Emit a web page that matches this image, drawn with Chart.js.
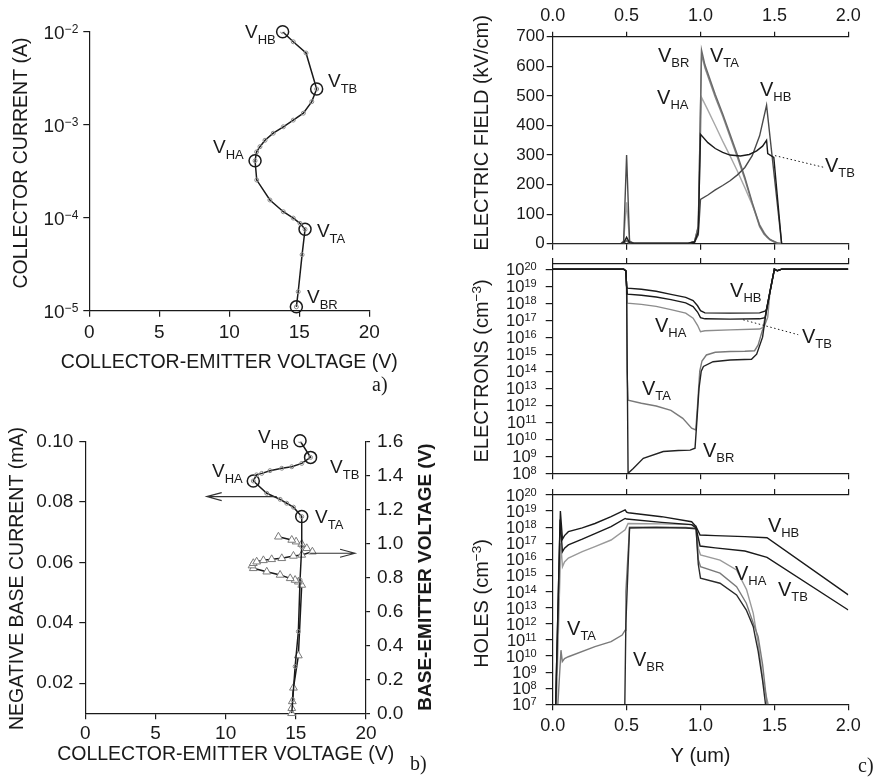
<!DOCTYPE html>
<html>
<head>
<meta charset="utf-8">
<title>Snapback characteristics and internal profiles</title>
<script src="https://cdn.jsdelivr.net/npm/chart.js@4.4.1/dist/chart.umd.min.js"></script>
<style>
  html, body { margin: 0; padding: 0; background: #fff; width: 884px; height: 780px; overflow: hidden; }
  .panel { position: absolute; }
  canvas { display: block; }
</style>
</head>
<body>
<div class="panel" style="left:0;top:0"><canvas id="chartIV" width="410" height="400"></canvas></div>
<div class="panel" style="left:0;top:395px"><canvas id="chartBase" width="440" height="385"></canvas></div>
<div class="panel" style="left:440px;top:0"><canvas id="chartField" width="444" height="256"></canvas></div>
<div class="panel" style="left:440px;top:250px"><canvas id="chartElectrons" width="444" height="234"></canvas></div>
<div class="panel" style="left:440px;top:478px"><canvas id="chartHoles" width="444" height="302"></canvas></div>
<script>
// ---------- a) collector current vs collector-emitter voltage ----------
const vceA = [13.81, 14.57, 15.48, 16.24, 15.89, 15.29, 14.57, 13.86, 13.14, 12.55, 12.19, 11.95, 11.84, 11.96, 12.90, 13.86, 14.57, 15.05, 15.41, 15.20, 14.92, 14.79];
const icA  = [1.0e-2, 7.8e-3, 5.9e-3, 2.42e-3, 1.77e-3, 1.33e-3, 1.12e-3, 9.5e-4, 8.1e-4, 6.8e-4, 5.8e-4, 5.1e-4, 4.1e-4, 2.54e-4, 1.55e-4, 1.16e-4, 9.9e-5, 8.7e-5, 7.5e-5, 4.0e-5, 1.6e-5, 1.1e-5];
const statesA   = ['HB', 'TB', 'HA', 'TA', 'BR'];
const stateVceA = [13.81, 16.24, 11.84, 15.41, 14.79];
const stateIcA  = [1.0e-2, 2.42e-3, 4.1e-4, 7.5e-5, 1.1e-5];

// ---------- b) base current and base-emitter voltage ----------
const vceB = [15.30, 16.05, 15.42, 14.71, 14.00, 13.16, 12.57, 12.20, 11.97, 12.93, 13.88, 14.35, 14.83, 15.42, 15.42, 15.30, 15.18, 14.95, 14.78, 14.71];
const ibB  = [0.1003, 0.0948, 0.0928, 0.0917, 0.0912, 0.0904, 0.0895, 0.0890, 0.0870, 0.0829, 0.0809, 0.0796, 0.0783, 0.0752, 0.0652, 0.0542, 0.0371, 0.0255, 0.0145, 0.0100];
const statesB   = ['HB', 'TB', 'HA', 'TA'];
const stateVceB = [15.30, 16.05, 11.97, 15.42];
const stateIbB  = [0.1003, 0.0948, 0.0870, 0.0752];
const vceT = [14.70, 14.71, 14.75, 14.83, 15.18, 15.42, 15.18, 14.95, 14.60, 13.88, 12.93, 11.97, 11.88, 11.97, 12.21, 12.69, 13.28, 14.00, 14.83, 15.42, 16.18, 15.78, 15.42, 15.02, 14.71, 13.76];
const vbeT = [0.00, 0.03, 0.07, 0.15, 0.34, 0.756, 0.775, 0.785, 0.795, 0.815, 0.834, 0.854, 0.870, 0.884, 0.893, 0.901, 0.907, 0.913, 0.927, 0.933, 0.952, 0.972, 0.997, 1.011, 1.021, 1.040];

// ---------- c) profiles along Y (um) at each bias state ----------
const fieldHB = [[0,0],[0.46,0],[0.48,8],[0.5,300],[0.52,8],[0.55,1],[0.92,2],[0.96,6],[0.985,30],[1.0,150],[1.05,165],[1.1,182],[1.15,197],[1.2,213],[1.25,233],[1.3,258],[1.35,298],[1.4,365],[1.447,468],[1.5,225],[1.549,0],[2.0,0]];
const fieldTB = [[0,0],[0.46,0],[0.48,3],[0.5,22],[0.52,3],[0.55,1],[0.92,2],[0.96,6],[0.985,40],[1.0,370],[1.05,342],[1.1,322],[1.15,309],[1.2,300],[1.27,297],[1.33,302],[1.38,314],[1.42,330],[1.447,350],[1.455,305],[1.496,292],[1.549,0],[2.0,0]];
const fieldBR = [[0,0],[0.46,0],[0.48,2],[0.5,12],[0.52,2],[0.92,2],[0.96,8],[0.985,60],[1.007,655],[1.03,605],[1.1,505],[1.15,440],[1.2,370],[1.25,300],[1.3,225],[1.35,140],[1.4,62],[1.43,36],[1.47,15],[1.52,3],[1.55,0],[2.0,0]];
const fieldTA = [[0,0],[0.46,0],[0.48,2],[0.5,10],[0.52,2],[0.92,2],[0.96,8],[0.985,55],[1.007,640],[1.03,595],[1.1,495],[1.15,432],[1.2,362],[1.25,292],[1.3,218],[1.35,135],[1.4,58],[1.43,32],[1.47,13],[1.52,2],[1.55,0],[2.0,0]];
const fieldHA = [[0,0],[0.46,0],[0.48,10],[0.5,140],[0.52,10],[0.55,1],[0.92,2],[0.96,8],[0.985,60],[1.007,495],[1.05,452],[1.1,400],[1.15,347],[1.2,297],[1.25,245],[1.3,190],[1.35,132],[1.4,65],[1.45,22],[1.5,5],[1.55,0],[2.0,0]];

const elecHB = [[0,1e20],[0.48,1e20],[0.495,8e19],[0.5,1e19],[0.505,7.6e18],[0.6,6.5e18],[0.7,5e18],[0.8,3.3e18],[0.9,2.2e18],[0.95,1.4e18],[0.98,7e17],[1.0,3.6e17],[1.03,2.7e17],[1.2,2.6e17],[1.4,2.7e17],[1.44,3.5e17],[1.447,4.5e17],[1.47,4.6e18],[1.5,1e20],[1.52,8e19],[1.55,1e20],[2.0,1e20]];
const elecTB = [[0,1e20],[0.48,1e20],[0.495,8e19],[0.5,1e19],[0.505,3.4e18],[0.6,2.9e18],[0.7,2.3e18],[0.8,1.6e18],[0.9,1.05e18],[0.95,6.3e17],[0.98,3e17],[1.0,1.4e17],[1.03,1.2e17],[1.2,1.15e17],[1.4,1.2e17],[1.437,1.4e17],[1.45,5e17],[1.47,4.6e18],[1.5,1e20],[1.52,8e19],[1.55,1e20],[2.0,1e20]];
const elecHA = [[0,1e20],[0.48,1e20],[0.495,8e19],[0.5,1e19],[0.505,1e18],[0.6,8.5e17],[0.7,6.5e17],[0.8,4.2e17],[0.9,2.6e17],[0.95,1.3e17],[0.98,5e16],[1.0,2.1e16],[1.03,2.4e16],[1.2,2.7e16],[1.4,3e16],[1.43,4e16],[1.455,1.5e17],[1.47,4.6e18],[1.5,1e20],[1.52,8e19],[1.55,1e20],[2.0,1e20]];
const elecTA = [[0,1e20],[0.48,1e20],[0.495,8e19],[0.5,1e19],[0.503,1e14],[0.51,2e12],[0.6,1.3e12],[0.7,9e11],[0.8,5e11],[0.88,1.7e11],[0.94,4.5e10],[0.968,3.5e10],[0.98,1e12],[0.995,1e14],[1.01,4e14],[1.04,9e14],[1.1,1.3e15],[1.2,1.45e15],[1.3,1.5e15],[1.366,1.6e15],[1.39,3.5e15],[1.423,3.4e16],[1.447,4.5e17],[1.47,4.6e18],[1.5,1e20],[1.52,8e19],[1.55,1e20],[2.0,1e20]];
const elecBR = [[0,1e20],[0.48,1e20],[0.495,8e19],[0.5,1e19],[0.51,1e8],[0.545,1.9e8],[0.613,7.6e8],[0.748,1.9e9],[0.85,2.2e9],[0.93,2.3e9],[0.963,3e9],[0.975,1e11],[0.99,1e13],[1.005,1e14],[1.02,1.9e14],[1.085,3.6e14],[1.2,4.6e14],[1.345,5e14],[1.38,1e15],[1.42,1e16],[1.447,4.5e17],[1.47,4.6e18],[1.5,1e20],[1.52,8e19],[1.55,1e20],[2.0,1e20]];

const holeHB = [[0.02,1e7],[0.052,1e19],[0.066,1.8e17],[0.08,3e17],[0.106,5.3e17],[0.2,9e17],[0.286,1.7e18],[0.395,4.5e18],[0.49,1.2e19],[0.5,8.5e18],[0.512,7.9e18],[0.737,4.5e18],[0.94,2.2e18],[0.97,1.1e18],[0.997,3.3e17],[1.1,3e17],[1.3,2.6e17],[1.45,2.2e17],[2.0,6.2e13]];
const holeTB = [[0.02,1e7],[0.05,3e18],[0.066,3e16],[0.08,5e16],[0.106,8e16],[0.2,1.8e17],[0.286,4e17],[0.395,1.1e18],[0.49,3.5e18],[0.5,3.2e18],[0.737,2e18],[0.94,1.45e18],[0.97,9e17],[0.997,6.8e16],[1.1,5.2e16],[1.3,3.3e16],[1.45,1.35e16],[2.0,7.2e12]];
const holeHA = [[0.025,1e7],[0.055,1e17],[0.066,3.5e15],[0.08,7e15],[0.106,1.2e16],[0.2,3e16],[0.286,6.3e16],[0.395,1.6e17],[0.49,6.8e17],[0.51,1.7e18],[0.737,1.6e18],[0.94,1.45e18],[0.97,1.2e18],[0.985,5e16],[1.0,1.9e16],[1.132,9e15],[1.244,2.2e15],[1.312,1.3e14],[1.357,4.5e12],[1.39,6.2e10],[1.425,2e8],[1.458,1e7]];
const holeTA = [[0.035,1e7],[0.056,2.3e10],[0.065,4.5e9],[0.08,7e9],[0.106,9e9],[0.286,3.8e10],[0.395,7.8e10],[0.47,2e11],[0.49,4e11],[0.495,1e14],[0.52,1e18],[0.7,1e18],[0.9,9.5e17],[0.97,8.5e17],[0.985,1e16],[1.0,3.5e15],[1.132,1.4e15],[1.244,2e14],[1.31,1.9e13],[1.357,1.1e12],[1.39,1.6e11],[1.42,3e9],[1.45,1e7]];
const holeBR = [[0.488,1e7],[0.495,1e12],[0.52,9e17],[0.7,9.5e17],[0.9,9e17],[0.97,8e17],[0.985,5e15],[1.0,6.8e14],[1.132,3.3e14],[1.244,6.2e13],[1.31,7.2e12],[1.357,6.6e11],[1.37,1.6e11],[1.39,2e10],[1.42,3e8],[1.44,1e7]];

// ---------- tick values ----------
const voltTicks        = [0, 5, 10, 15, 20];
const currentDecades   = [1e-5, 1e-4, 1e-3, 1e-2];
const baseCurrentTicks = [0.02, 0.04, 0.06, 0.08, 0.10];
const vbeTicks         = [0, 0.2, 0.4, 0.6, 0.8, 1.0, 1.2, 1.4, 1.6];
const depthTicks       = [0, 0.5, 1.0, 1.5, 2.0];
const fieldTicks       = [0, 100, 200, 300, 400, 500, 600, 700];
const electronDecades  = [1e8, 1e9, 1e10, 1e11, 1e12, 1e13, 1e14, 1e15, 1e16, 1e17, 1e18, 1e19, 1e20];
const holeDecades      = [1e7, 1e8, 1e9, 1e10, 1e11, 1e12, 1e13, 1e14, 1e15, 1e16, 1e17, 1e18, 1e19, 1e20];

// ---------- styling helpers ----------
const FONT = "'Liberation Sans', Arial, Helvetica, sans-serif";
const SERIF = "'Liberation Serif', 'Times New Roman', serif";
const INK = '#1a1a1a';
Chart.defaults.font.family = FONT;
Chart.defaults.color = INK;

const gridOf = len => ({ display: true, drawOnChartArea: false, drawTicks: true, tickLength: len, color: INK, lineWidth: 1.2 });
const borderOf = () => ({ display: true, color: INK, width: 1.2 });
const fixTicks = list => scale => { scale.ticks = list.map(v => ({ value: v })); };
const fixWidth = w => scale => { scale.width = w; };
const fixHeight = h => scale => { scale.height = h; };
const pairs = (xs, ys) => xs.map((x, i) => ({ x, y: ys[i] }));
const fromPairs = arr => arr.map(([x, y]) => ({ x, y }));

function drawParts(ctx, parts, x, y, align) {
  const widths = parts.map(p => {
    ctx.font = `${p.weight || 'normal'} ${p.size}px ${p.family || FONT}`;
    return ctx.measureText(p.text).width;
  });
  const total = widths.reduce((a, b) => a + b, 0);
  let cx = align === 'right' ? x - total : (align === 'center' ? x - total / 2 : x);
  ctx.textAlign = 'left';
  ctx.textBaseline = 'alphabetic';
  parts.forEach((p, i) => {
    ctx.font = `${p.weight || 'normal'} ${p.size}px ${p.family || FONT}`;
    ctx.fillText(p.text, cx, y + (p.dy || 0));
    cx += widths[i];
  });
}

// Draws power-of-ten tick labels, axis titles, state labels, arrows and leaders.
const figureText = {
  id: 'figureText',
  defaults: {},
  afterDraw(chart, args, o) {
    const ctx = chart.ctx;
    const area = chart.chartArea;
    ctx.save();
    ctx.fillStyle = INK;
    ctx.strokeStyle = INK;

    if (o.powers) {
      const p = o.powers;
      const s = chart.scales[p.axis];
      s.ticks.forEach(t => {
        const py = s.getPixelForValue(t.value);
        const e = Math.round(Math.log10(t.value));
        drawParts(ctx, [
          { text: '10', size: p.size },
          { text: String(e).replace('-', '\u2212'), size: p.sup, dy: -p.rise }
        ], area.left - p.gap, py + p.size * 0.36, 'right');
      });
    }

    // axis titles, centred on (x, y); x defaults to the plot's horizontal centre
    (o.titles || []).forEach(t => {
      const x = t.x === undefined ? (area.left + area.right) / 2 : t.x;
      ctx.save();
      ctx.translate(x, t.y);
      if (t.rot) ctx.rotate(-Math.PI / 2);
      drawParts(ctx, t.parts, 0, t.parts[0].size * 0.36, 'center');
      ctx.restore();
    });

    (o.leaders || []).forEach(l => {
      const xs = chart.scales[l.xAxis || 'x'], ys = chart.scales[l.yAxis || 'y'];
      ctx.save();
      ctx.setLineDash([1.5, 2.5]);
      ctx.lineWidth = 1;
      ctx.beginPath();
      ctx.moveTo(xs.getPixelForValue(l.x1), ys.getPixelForValue(l.y1));
      ctx.lineTo(xs.getPixelForValue(l.x2), ys.getPixelForValue(l.y2));
      ctx.stroke();
      ctx.restore();
    });

    (o.arrows || []).forEach(a => {
      const xs = chart.scales[a.xAxis || 'x'], ys = chart.scales[a.yAxis || 'y'];
      const x1 = xs.getPixelForValue(a.from), x2 = xs.getPixelForValue(a.to);
      const y = ys.getPixelForValue(a.at);
      const dir = Math.sign(x2 - x1);
      ctx.save();
      ctx.strokeStyle = '#333';
      ctx.lineWidth = 1.1;
      ctx.beginPath();
      ctx.moveTo(x1, y); ctx.lineTo(x2, y);
      ctx.moveTo(x2 - dir * 15, y - 4); ctx.lineTo(x2, y); ctx.lineTo(x2 - dir * 15, y + 4);
      ctx.stroke();
      ctx.restore();
    });

    (o.marks || []).forEach(m => {
      const xs = chart.scales[m.xAxis || 'x'], ys = chart.scales[m.yAxis || 'y'];
      drawParts(ctx, [
        { text: 'V', size: o.vSize || 20 },
        { text: m.sub, size: o.subSize || 13, dy: o.subDrop || 5 }
      ], xs.getPixelForValue(m.x), ys.getPixelForValue(m.y), 'left');
    });

    if (o.tag) {
      drawParts(ctx, [{ text: o.tag.text, size: 20, family: SERIF }], o.tag.x, o.tag.y, 'left');
    }
    ctx.restore();
  }
};
Chart.register(figureText);

const baseOptions = {
  responsive: false,
  devicePixelRatio: 1,
  animation: false,
  events: [],
  plugins: { legend: { display: false }, tooltip: { enabled: false } }
};

// ---------- a) ----------
new Chart(document.getElementById('chartIV'), {
  type: 'scatter',
  data: {
    datasets: [
      { data: pairs(vceA, icA), showLine: true, borderColor: INK, borderWidth: 1.5,
        pointRadius: 2, pointBorderColor: '#8c8c8c', pointBackgroundColor: 'rgba(255,255,255,0)', pointBorderWidth: 1 },
      { data: pairs(stateVceA, stateIcA), showLine: false, pointRadius: 6, pointBorderColor: INK,
        pointBackgroundColor: 'rgba(255,255,255,0)', pointBorderWidth: 1.5, clip: false }
    ]
  },
  options: {
    ...baseOptions,
    layout: { padding: { left: 0, top: 31.7, right: 40.7, bottom: 0 } },
    scales: {
      x: { type: 'linear', position: 'bottom', min: 0, max: 20,
        afterBuildTicks: fixTicks(voltTicks), afterFit: fixHeight(89.3),
        grid: gridOf(6), border: borderOf(),
        ticks: { font: { size: 19 }, padding: 5, color: INK } },
      y: { type: 'logarithmic', position: 'left', min: 1e-5, max: 1e-2,
        afterBuildTicks: fixTicks(currentDecades), afterFit: fixWidth(89.3),
        grid: gridOf(6), border: borderOf(), ticks: { display: false } }
    },
    plugins: {
      ...baseOptions.plugins,
      figureText: {
        powers: { axis: 'y', size: 19, sup: 12, rise: 6, gap: 11 },
        titles: [
          { y: 361, parts: [{ text: 'COLLECTOR-EMITTER VOLTAGE (V)', size: 19.5 }] },
          { x: 20, y: 163, rot: true, parts: [{ text: 'COLLECTOR CURRENT (A)', size: 19.5 }] }
        ],
        vSize: 19, subSize: 13, subDrop: 6,
        marks: [
          { sub: statesA[0], x: 11.12, y: 8.55e-3 },
          { sub: statesA[1], x: 17.05, y: 2.54e-3 },
          { sub: statesA[2], x: 8.84, y: 4.97e-4 },
          { sub: statesA[3], x: 16.26, y: 6.19e-5 },
          { sub: statesA[4], x: 15.55, y: 1.21e-5 }
        ],
        tag: { text: 'a)', x: 372, y: 391 }
      }
    }
  }
});

// ---------- b) ----------
new Chart(document.getElementById('chartBase'), {
  type: 'scatter',
  data: {
    datasets: [
      { data: pairs(vceB, ibB), yAxisID: 'y', showLine: true, borderColor: INK, borderWidth: 1.5,
        pointRadius: 2, pointBorderColor: '#8c8c8c', pointBackgroundColor: 'rgba(255,255,255,0)', pointBorderWidth: 1 },
      { data: pairs(stateVceB, stateIbB), yAxisID: 'y', showLine: false, pointRadius: 6, pointBorderColor: INK,
        pointBackgroundColor: 'rgba(255,255,255,0)', pointBorderWidth: 1.5, clip: false },
      { data: pairs(vceT, vbeT), yAxisID: 'y2', showLine: true, borderColor: INK, borderWidth: 1.5,
        pointStyle: 'triangle', pointRadius: 4.5, pointBorderColor: '#7a7a7a', pointBackgroundColor: '#ffffff', pointBorderWidth: 1, clip: false }
    ]
  },
  options: {
    ...baseOptions,
    layout: { padding: { left: 0, top: 46.7, right: 0, bottom: 0 } },
    scales: {
      x: { type: 'linear', position: 'bottom', min: 0, max: 20,
        afterBuildTicks: fixTicks(voltTicks), afterFit: fixHeight(66.7),
        grid: gridOf(6), border: borderOf(),
        ticks: { font: { size: 19 }, padding: 3, color: INK } },
      y: { type: 'linear', position: 'left', min: 0.01, max: 0.10,
        afterBuildTicks: fixTicks(baseCurrentTicks), afterFit: fixWidth(85.3),
        grid: gridOf(6), border: borderOf(),
        ticks: { font: { size: 19 }, padding: 6, color: INK, callback: v => v.toFixed(2) } },
      y2: { type: 'linear', position: 'right', min: 0, max: 1.6,
        afterBuildTicks: fixTicks(vbeTicks), afterFit: fixWidth(74),
        grid: gridOf(4), border: borderOf(),
        ticks: { font: { size: 19 }, padding: 7, color: INK, callback: v => v.toFixed(1) } }
    },
    plugins: {
      ...baseOptions.plugins,
      figureText: {
        titles: [
          { y: 358, parts: [{ text: 'COLLECTOR-EMITTER VOLTAGE (V)', size: 19.5 }] },
          { x: 15.5, y: 183.5, rot: true, parts: [{ text: 'NEGATIVE BASE CURRENT (mA)', size: 19.5 }] },
          { x: 424, y: 182, rot: true, parts: [{ text: 'BASE-EMITTER VOLTAGE (V)', size: 19, weight: 'bold' }] }
        ],
        vSize: 19, subSize: 13, subDrop: 6,
        marks: [
          { sub: statesB[0], x: 12.31, y: 0.0996 },
          { sub: statesB[1], x: 17.44, y: 0.0896 },
          { sub: statesB[2], x: 9.03, y: 0.0883 },
          { sub: statesB[3], x: 16.37, y: 0.0731 }
        ],
        arrows: [
          { from: 13.64, to: 8.65, at: 0.0818, yAxis: 'y' },
          { from: 16.02, to: 19.22, at: 0.943, yAxis: 'y2' }
        ],
        tag: { text: 'b)', x: 410, y: 375 }
      }
    }
  }
});

// ---------- c) profiles ----------
const profileLine = (data, color) => ({ data: fromPairs(data), showLine: true, borderColor: color, borderWidth: 1.4, pointRadius: 0 });
const depthAxis = (position, fit, withLabels) => ({
  type: 'linear', position, min: 0, max: 2,
  afterBuildTicks: fixTicks(depthTicks), afterFit: fixHeight(fit),
  grid: gridOf(6), border: borderOf(),
  ticks: withLabels ? { font: { size: 18 }, padding: 5, color: INK, callback: v => v.toFixed(1) } : { display: false }
});

new Chart(document.getElementById('chartField'), {
  type: 'scatter',
  data: {
    datasets: [
      profileLine(fieldTB, '#1a1a1a'),
      profileLine(fieldHB, '#4a4a4a'),
      profileLine(fieldBR, '#6a6a6a'),
      profileLine(fieldTA, '#858585'),
      profileLine(fieldHA, '#a8a8a8')
    ]
  },
  options: {
    ...baseOptions,
    layout: { padding: { left: 0, top: 0, right: 35.7, bottom: 0 } },
    scales: {
      x: { ...depthAxis('top', 36.7, true), grid: gridOf(5) },
      xb: depthAxis('bottom', 10.3, false),
      y: { type: 'linear', position: 'left', min: 0, max: 700,
        afterBuildTicks: fixTicks(fieldTicks), afterFit: fixWidth(112.7),
        grid: gridOf(6), border: borderOf(),
        ticks: { font: { size: 17 }, padding: 2, color: INK } }
    },
    plugins: {
      ...baseOptions.plugins,
      figureText: {
        titles: [{ x: 41, y: 133, rot: true, parts: [{ text: 'ELECTRIC FIELD (kV/cm)', size: 20 }] }],
        vSize: 20, subSize: 13, subDrop: 5,
        marks: [
          { sub: 'BR', x: 0.712, y: 616 },
          { sub: 'TA', x: 1.064, y: 616 },
          { sub: 'HA', x: 0.706, y: 471 },
          { sub: 'HB', x: 1.402, y: 498 },
          { sub: 'TB', x: 1.842, y: 243 }
        ],
        leaders: [{ x1: 1.504, y1: 298, x2: 1.83, y2: 259 }]
      }
    }
  }
});

new Chart(document.getElementById('chartElectrons'), {
  type: 'scatter',
  data: {
    datasets: [
      profileLine(elecHB, '#1a1a1a'),
      profileLine(elecTB, '#1a1a1a'),
      profileLine(elecBR, '#222222'),
      profileLine(elecHA, '#8c8c8c'),
      profileLine(elecTA, '#7a7a7a')
    ]
  },
  options: {
    ...baseOptions,
    layout: { padding: { left: 0, top: 0, right: 35.7, bottom: 0 } },
    scales: {
      x: depthAxis('bottom', 10.7, false),
      xt: depthAxis('top', 14, false),
      y: { type: 'logarithmic', position: 'left', min: 1e8, max: 2e20,
        afterBuildTicks: fixTicks(electronDecades), afterFit: fixWidth(112.7),
        grid: gridOf(7), border: borderOf(), ticks: { display: false } }
    },
    plugins: {
      ...baseOptions.plugins,
      figureText: {
        powers: { axis: 'y', size: 16.5, sup: 11, rise: 5, gap: 16 },
        titles: [{ x: 41, y: 121, rot: true, parts: [
          { text: 'ELECTRONS (cm', size: 20 }, { text: '\u22123', size: 13.5, dy: -7 }, { text: ')', size: 20 }] }],
        vSize: 20, subSize: 13, subDrop: 5,
        marks: [
          { sub: 'HB', x: 1.20, y: 2.45e18 },
          { sub: 'HA', x: 0.692, y: 2.1e16 },
          { sub: 'TB', x: 1.686, y: 4.6e15 },
          { sub: 'TA', x: 0.604, y: 4.1e12 },
          { sub: 'BR', x: 1.017, y: 9.1e8 }
        ],
        leaders: [{ x1: 1.289, y1: 1.05e17, x2: 1.661, y2: 1.4e16 }]
      }
    }
  }
});

new Chart(document.getElementById('chartHoles'), {
  type: 'scatter',
  data: {
    datasets: [
      profileLine(holeHB, '#1a1a1a'),
      profileLine(holeTB, '#1a1a1a'),
      profileLine(holeBR, '#2a2a2a'),
      profileLine(holeTA, '#7a7a7a'),
      profileLine(holeHA, '#9a9a9a')
    ]
  },
  options: {
    ...baseOptions,
    layout: { padding: { left: 0, top: 0, right: 35.7, bottom: 0 } },
    scales: {
      x: depthAxis('bottom', 75.7, true),
      xt: depthAxis('top', 17, false),
      y: { type: 'logarithmic', position: 'left', min: 1e7, max: 1e20,
        afterBuildTicks: fixTicks(holeDecades), afterFit: fixWidth(112.7),
        grid: gridOf(7), border: borderOf(), ticks: { display: false } }
    },
    plugins: {
      ...baseOptions.plugins,
      figureText: {
        powers: { axis: 'y', size: 16.5, sup: 11, rise: 5, gap: 16 },
        titles: [
          { y: 277, parts: [{ text: 'Y (um)', size: 20 }] },
          { x: 41, y: 125.5, rot: true, parts: [
            { text: 'HOLES (cm', size: 20 }, { text: '\u22123', size: 13.5, dy: -7 }, { text: ')', size: 20 }] }
        ],
        vSize: 20, subSize: 13, subDrop: 5,
        marks: [
          { sub: 'HB', x: 1.456, y: 5.2e17 },
          { sub: 'HA', x: 1.233, y: 5.2e14 },
          { sub: 'TB', x: 1.524, y: 5.4e13 },
          { sub: 'TA', x: 0.097, y: 2e11 },
          { sub: 'BR', x: 0.543, y: 2.4e9 }
        ],
        tag: { text: 'c)', x: 418, y: 294 }
      }
    }
  }
});
</script>
</body>
</html>
